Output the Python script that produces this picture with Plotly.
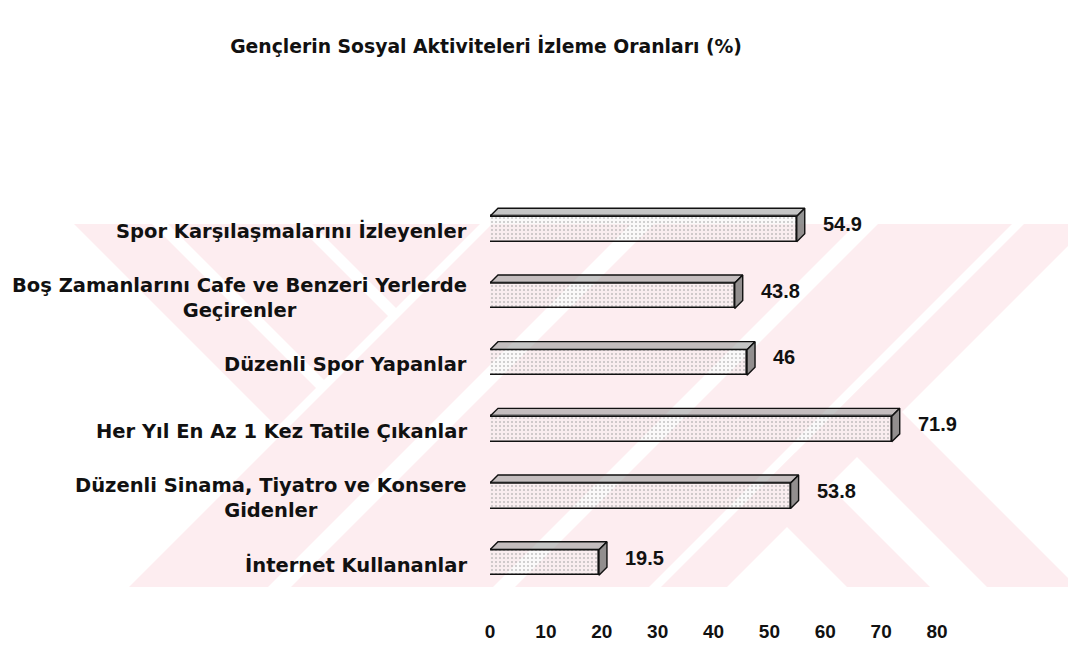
import plotly.graph_objects as go

# ---- data ----
categories = [
    "Spor Karşılaşmalarını İzleyenler",
    "Boş Zamanlarını Cafe ve Benzeri Yerlerde<br>Geçirenler",
    "Düzenli Spor Yapanlar",
    "Her Yıl En Az 1 Kez Tatile Çıkanlar",
    "Düzenli Sinama, Tiyatro ve Konsere<br>Gidenler",
    "İnternet Kullananlar",
]
values = [54.9, 43.8, 46, 71.9, 53.8, 19.5]
value_labels = ["54.9", "43.8", "46", "71.9", "53.8", "19.5"]
x_ticks = [0, 10, 20, 30, 40, 50, 60, 70, 80]
title_text = "Gençlerin Sosyal Aktiviteleri İzleme Oranları (%)"

# ---- geometry ----
W, H = 1068, 646
L, R, T, B = 490, 131, 180, 28
plot_w = W - L - R
plot_h = H - T - B
X_RANGE = (0, 80)
ROW0_PX, ROW_STEP_PX = 229.0, 66.7   # pixel centre of first row, row spacing
# reversed category axis: first category on top
Y_RANGE = ((H - B - ROW0_PX) / ROW_STEP_PX, (T - ROW0_PX) / ROW_STEP_PX)
px_per_x = plot_w / (X_RANGE[1] - X_RANGE[0])
px_per_y = ROW_STEP_PX
BAR_H = 0.382                        # front face thickness (category units)
DEPTH_X = 8 / px_per_x               # 3-D depth offset in value units
DEPTH_Y = 8 / px_per_y               # 3-D depth offset in category units

FONT = "Liberation Sans, Arial, Helvetica, sans-serif"
WIDE_FONT = "DejaVu Sans, Verdana, sans-serif"
positions = list(range(len(categories)))

fig = go.Figure()

# front faces of the bars
fig.add_trace(go.Bar(
    x=values, y=positions, orientation="h", width=BAR_H, base=0,
    marker=dict(
        color="rgba(255,255,255,0)",
        line=dict(color="#111111", width=1.6),
        pattern=dict(shape=".", fgcolor="#8a8a8a", bgcolor="rgba(240,238,238,0.35)",
                     size=4, solidity=0.2, fillmode="overlay"),
    ),
    hoverinfo="skip", showlegend=False,
))

# top and side faces built from the same values
top_x, top_y, side_x, side_y = [], [], [], []
for p, v in zip(positions, values):
    yt = p - BAR_H / 2
    top_x += [0, v, v + DEPTH_X, DEPTH_X, 0, None]
    top_y += [yt, yt, yt - DEPTH_Y, yt - DEPTH_Y, yt, None]
    side_x += [v, v + DEPTH_X, v + DEPTH_X, v, v, None]
    side_y += [yt, yt - DEPTH_Y, yt - DEPTH_Y + BAR_H, yt + BAR_H, yt, None]

fig.add_trace(go.Scatter(
    x=top_x, y=top_y, mode="lines", fill="toself",
    fillcolor="rgba(150,150,150,0.55)",
    line=dict(color="#111111", width=1.4),
    hoverinfo="skip", showlegend=False,
))
fig.add_trace(go.Scatter(
    x=side_x, y=side_y, mode="lines", fill="toself",
    fillcolor="rgba(110,110,110,0.75)",
    line=dict(color="#111111", width=1.4),
    hoverinfo="skip", showlegend=False,
))

# value labels
for p, v, t in zip(positions, values, value_labels):
    fig.add_annotation(
        x=v, y=p, text=t, showarrow=False, xanchor="left", yanchor="middle",
        xshift=24, yshift=5,
        font=dict(family=FONT, size=20, color="#111111", weight="bold"),
    )

# category labels, centred lines, right-aligned block
for p, c in zip(positions, categories):
    fig.add_annotation(
        x=0, xref="paper", y=p, text=c, showarrow=False,
        xanchor="right", yanchor="middle", align="center", xshift=-21, yshift=-2,
        font=dict(family=WIDE_FONT, size=19.5, color="#111111", weight="bold"),
    )


# ---- faint diagonal watermark behind the chart ----
def clip(poly, a, b, c):
    """Keep the part of poly with a*x + b*y <= c."""
    out = []
    n = len(poly)
    for k in range(n):
        p, q = poly[k], poly[(k + 1) % n]
        fp = a * p[0] + b * p[1] - c
        fq = a * q[0] + b * q[1] - c
        if fp <= 0:
            out.append(p)
        if fp * fq < 0:
            t = fp / (fp - fq)
            out.append((p[0] + t * (q[0] - p[0]), p[1] + t * (q[1] - p[1])))
    return out


def band(conds):
    poly = [(0, 224), (W, 224), (W, 587), (0, 587)]
    for a, b, c in conds:
        poly = clip(poly, a, b, c)
        if not poly:
            break
    return poly


S_LE = lambda v: (1, 1, v)      # x + y <= v
S_GE = lambda v: (-1, -1, -v)   # x + y >= v
D_LE = lambda v: (1, -1, v)     # x - y <= v
D_GE = lambda v: (-1, 1, -v)    # x - y >= v

pieces = [
    [S_LE(704), D_GE(-150), D_LE(-72)],
    [S_LE(704), D_GE(-56), D_LE(72)],
    [S_LE(704), D_GE(88)],
    [S_GE(716), S_LE(855)],
    [S_GE(878), S_LE(1080)],
    [S_GE(1102), S_LE(1236)],
    [S_GE(1248), S_LE(1314)],
    [S_GE(1248), D_GE(260), D_LE(343)],
    [S_GE(1248), D_GE(400), D_LE(490)],
]


def to_paper(pt):
    return ((pt[0] - L) / plot_w, (T + plot_h - pt[1]) / plot_h)


for conds in pieces:
    poly = band(conds)
    if len(poly) < 3:
        continue
    pts = [to_paper(p) for p in poly]
    path = "M " + " L ".join(f"{x:.5f},{y:.5f}" for x, y in pts) + " Z"
    fig.add_shape(type="path", path=path, xref="paper", yref="paper",
                  fillcolor="#fdedf0", line=dict(width=0), layer="below")

fig.update_layout(
    width=W, height=H,
    margin=dict(l=L, r=R, t=T, b=B, autoexpand=False),
    paper_bgcolor="white", plot_bgcolor="rgba(0,0,0,0)",
    title=dict(
        text=title_text, x=486 / W, xref="container", xanchor="center",
        y=1 - 46 / H, yref="container", yanchor="middle",
        font=dict(family=WIDE_FONT, size=18.8, color="#111111", weight="bold"),
    ),
    xaxis=dict(range=list(X_RANGE), tickvals=x_ticks, ticks="", showgrid=False,
               zeroline=False, showline=False, automargin=False,
               tickfont=dict(family=FONT, size=19, color="#111111", weight="bold")),
    yaxis=dict(range=list(Y_RANGE), showticklabels=False, showgrid=False,
               zeroline=False, showline=False, automargin=False),
    bargap=0,
)

fig.write_html("out.html")
